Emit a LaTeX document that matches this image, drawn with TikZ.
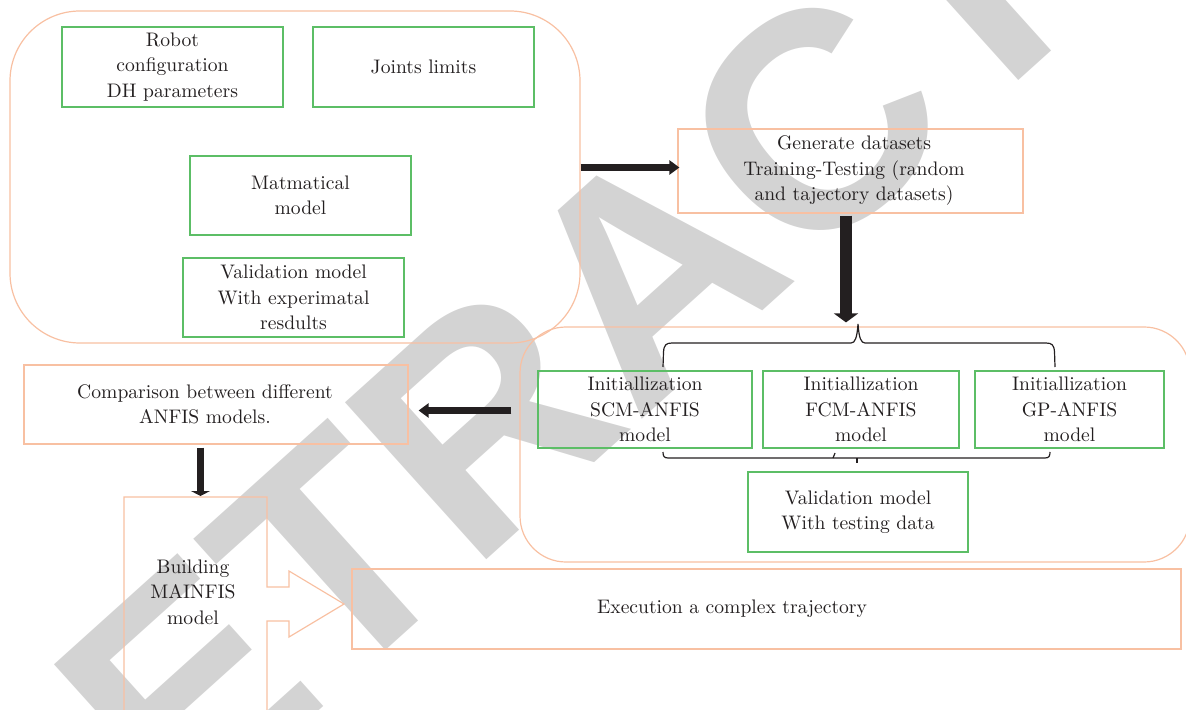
\documentclass[tikz,border=0pt]{standalone}
\usepackage{fontspec}
\newfontfamily\stampfont{Liberation Sans}
\usetikzlibrary{positioning, arrows.meta}
\definecolor{boxgreen}{RGB}{92,190,102}
\definecolor{boxorange}{RGB}{248,192,162}
\definecolor{stampgrey}{RGB}{211,211,211}
\definecolor{inkblack}{RGB}{35,31,32}

\begin{document}
\begin{tikzpicture}[x=0.5pt, y=-0.5pt, semithick]
    \tikzstyle{every node}=[
        font = \fontsize{9.8}{12.75}\selectfont,
        text = inkblack,
        align = center
    ]
    \tikzstyle{gbox}=[draw=boxgreen, line width=0.75pt, inner sep=0pt]
    \tikzstyle{obox}=[draw=boxorange, line width=0.6pt, inner sep=0pt]
    \tikzstyle{group}=[draw=boxorange, line width=0.6pt, inner sep=0pt]
    \tikzstyle{harrow}=[draw=inkblack, line width=3.5pt, -{Triangle[length=5pt, width=7pt]}]
    \tikzstyle{varrow}=[draw=inkblack, line width=6pt, -{Triangle[length=4.5pt, width=12pt]}]
    \tikzstyle{darrow}=[draw=inkblack, line width=3.5pt, -{Triangle[length=2.5pt, width=9.5pt]}]
    \tikzstyle{brace}=[draw=inkblack, line width=0.6pt]

    \useasboundingbox (0,0) rectangle (1186,710);

    % watermark behind everything
    \node[rotate=42, text=stampgrey, inner sep=0pt,
          font=\stampfont\bfseries\fontsize{153.5}{160}\selectfont] (stamp) at (648,272) {RETRACTED};

    % groups
    \node[group, rounded corners=35pt, minimum width=285pt, minimum height=166pt] (grp1) at (295,177) {};
    \node[group, rounded corners=23pt, minimum width=335pt, minimum height=117.5pt] (grp2) at (855,444.5) {};

    % robot model
    \node[gbox, minimum width=110.5pt, minimum height=40pt] (robot) at (172.5,67) {Robot\\configuration\\DH parameters};
    \node[gbox, minimum width=110.5pt, minimum height=40pt] (joints) at (423.5,67) {Joints limits};
    \node[gbox, minimum width=110.5pt, minimum height=39.5pt] (mat) at (300.5,195.5) {Matmatical\\model};
    \node[gbox, minimum width=110.5pt, minimum height=39.5pt] (valexp) at (293.5,297.5) {Validation model\\With experimatal\\resdults};

    % datasets
    \node[obox, minimum width=172.5pt, minimum height=42pt] (gen) at (850.5,171) {};
    \node (genlbl) at (854,171) {Generate datasets\\Training-Testing (random\\and tajectory datasets)};

    % anfis models
    \node[gbox, minimum width=107pt, minimum height=38.5pt] (scm) at (645,409.5) {Initiallization\\SCM-ANFIS\\model};
    \node[gbox, minimum width=98pt, minimum height=38.5pt] (fcm) at (861,409.5) {Initiallization\\FCM-ANFIS\\model};
    \node[gbox, minimum width=94.5pt, minimum height=38.5pt] (gp) at (1069.5,409.5) {Initiallization\\GP-ANFIS\\model};
    \node[gbox, minimum width=110pt, minimum height=40pt] (valtest) at (858,512) {Validation model\\With testing data};

    % comparison and mainfis
    \node[obox, minimum width=192pt, minimum height=39.5pt] (comp) at (216,404.5) {};
    \node (complbl) at (205,404.5) {Comparison between different\\ANFIS models.};
    \node (build) at (193,592) {Building\\MAINFIS\\model};
    \coordinate (buildtop) at (200.5,497);
    \node[obox, minimum width=414.5pt, minimum height=40pt] (exec) at (766.5,609) {};
    \node (execlbl) at (732,609) {Execution a complex trajectory};

    \draw[boxorange, line width=0.6pt] (124,715) -- (124,497) -- (267,497) -- (267,587) -- (289,587)
        -- (289,571) -- (344,604) -- (289,637) -- (289,621) -- (267,621) -- (267,715);

    % braces
    \draw[brace] (663,367) -- (663.5,352) .. controls (664,345) and (666,343) .. (672,343) -- (851,343)
        .. controls (855,343) and (857,338) .. (858,324) .. controls (859,338) and (861,343) .. (865,343)
        -- (1046,343) .. controls (1052,343) and (1054,345) .. (1054.5,352) -- (1055,367);
    \draw[brace] (663,452) .. controls (663,456) and (664,458) .. (668,458) -- (1045,458)
        .. controls (1049,458) and (1050,456) .. (1050,452);
    \draw[brace] (857,458) -- (857,463);
    \draw[brace] (833,458) -- (835,453);

    % arrows
    \draw[harrow] ([yshift=1.75pt]grp1.east |- gen.west) -- ([yshift=1.75pt, xshift=1pt]gen.west);
    \draw[varrow] ([xshift=-2.25pt, yshift=-1pt]gen.south) -- ([xshift=-2.25pt, yshift=2pt]gen.south |- grp2.north);
    \draw[harrow] ([xshift=-4pt, yshift=-0.5pt]grp2.west |- scm) -- ([xshift=5pt, yshift=-0.5pt]comp.east |- scm);
    \draw[darrow] ([yshift=-1.5pt]comp.south -| buildtop) -- ([yshift=0.5pt]buildtop);
\end{tikzpicture}
\end{document}
